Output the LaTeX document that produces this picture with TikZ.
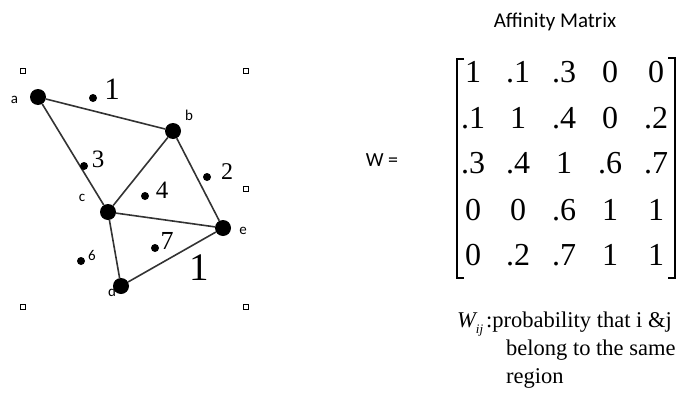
\documentclass[tikz,border=0pt]{standalone}
\usepackage{fontspec}
\setmainfont{Liberation Serif}
\newfontfamily\calib{Carlito}
\begin{document}
\begin{tikzpicture}[x=1pt,y=-1pt,
  vtx/.style={circle,fill=black,inner sep=0pt,minimum size=16pt},
  pt/.style={circle,fill=black,inner sep=0pt,minimum size=8pt},
  edge/.style={draw=black!80,line width=1.6pt},
  handle/.style={draw=black,line width=0.6pt,fill=white,inner sep=0pt,minimum size=5pt},
  lbl/.style={inner sep=0pt,font=\calib\fontsize{15}{15}\selectfont},
  num/.style={inner sep=0pt},
  ent/.style={inner sep=0pt,font=\fontsize{32}{32}\selectfont},
  txt/.style={inner sep=0pt,anchor=base west,font=\fontsize{22.5}{28}\selectfont},
  brk/.style={line width=1.6pt}]
\useasboundingbox (0,0) rectangle (690,415);
% handles
\node[handle] (h1) at (22.5,70.5) {};
\node[handle] (h2) at (246,70.5) {};
\node[handle] (h3) at (246,189) {};
\node[handle] (h4) at (22.5,307) {};
\node[handle] (h5) at (246,307) {};
% vertex labels (d behind node)
\node[lbl] (la) at (14.5,100) {a};
\node[lbl] (lb) at (189,115) {b};
\node[lbl] (lc) at (82,198) {c};
\node[lbl] (le) at (243,231) {e};
\node[lbl] (ld) at (112,291) {d};
% vertices
\node[vtx] (a) at (38,97) {};
\node[vtx] (b) at (173,131) {};
\node[vtx] (c) at (108,212) {};
\node[vtx] (e) at (223,228) {};
\node[vtx] (d) at (121,286) {};
% edges
\draw[edge] (a) -- (b);
\draw[edge] (a) -- (c);
\draw[edge] (b) -- (c);
\draw[edge] (b) -- (e);
\draw[edge] (c) -- (e);
\draw[edge] (c) -- (d);
\draw[edge] (d) -- (e);
% small points and region numbers
\node[pt] (p1) at (93,98) {};
\node[num,font=\fontsize{31}{31}\selectfont] (n1) at (112,89) {1};
\node[pt] (p3) at (84,166) {};
\node[num,font=\fontsize{25}{25}\selectfont] (n3) at (98,159) {3};
\node[pt] (p2) at (207,177) {};
\node[num,font=\fontsize{24}{24}\selectfont] (n2) at (227,172) {2};
\node[pt] (p4) at (145,196) {};
\node[num,font=\fontsize{25}{25}\selectfont] (n4) at (162,190) {4};
\node[pt] (p7) at (155,248) {};
\node[num,font=\fontsize{26}{26}\selectfont] (n7) at (167,241) {7};
\node[pt] (p6) at (81,261) {};
\node[lbl] (n6) at (92,255) {6};
\node[num,font=\fontsize{39}{39}\selectfont] (n1b) at (199,268) {1};
% right side
\node[inner sep=0pt,font=\calib\fontsize{21}{21}\selectfont] (title) at (555,22) {Affinity Matrix};
\node[inner sep=0pt,font=\calib\fontsize{20}{20}\selectfont] (weq) at (382,160) {W =};
\foreach \v/\x [count=\i] in {1/473,.1/518,.3/564,0/610,0/656}{\node[ent] (m1\i) at (\x,72) {\v};}
\foreach \v/\x [count=\i] in {.1/473,1/518,.4/564,0/610,.2/656}{\node[ent] (m2\i) at (\x,118) {\v};}
\foreach \v/\x [count=\i] in {.3/473,.4/518,1/564,.6/610,.7/656}{\node[ent] (m3\i) at (\x,163) {\v};}
\foreach \v/\x [count=\i] in {0/473,0/518,.6/564,1/610,1/656}{\node[ent] (m4\i) at (\x,210) {\v};}
\foreach \v/\x [count=\i] in {0/473,.2/518,.7/564,1/610,1/656}{\node[ent] (m5\i) at (\x,255) {\v};}
\coordinate (lbt) at (457,59);
\coordinate (lbb) at (457,278);
\coordinate (rbt) at (675,58);
\coordinate (rbb) at (675,278);
\draw[brk] ([xshift=7pt]lbt) -- (lbt) -- (lbb) -- ([xshift=7pt]lbb);
\draw[brk] ([xshift=-7pt]rbt) -- (rbt) -- (rbb) -- ([xshift=-7pt]rbb);
\node[txt] (t1) at (457,327) {{\itshape W}\raisebox{-0.28em}{\fontsize{13}{13}\selectfont\itshape ij}\hspace{3pt}:probability that i \&j};
\node[txt] (t2) at (506,355) {belong to the same};
\node[txt] (t3) at (506,383) {region};
\end{tikzpicture}
\end{document}
